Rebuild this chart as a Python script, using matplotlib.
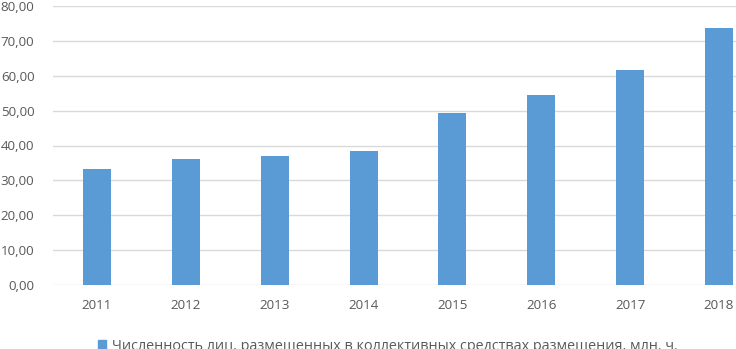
import matplotlib
matplotlib.use("Agg")
import matplotlib.pyplot as plt
from matplotlib.patches import Patch

years = ["2011", "2012", "2013", "2014", "2015", "2016", "2017", "2018"]
values = [33.3, 36.1, 37.0, 38.4, 49.3, 54.5, 61.6, 73.7]
y_ticks = [0, 10, 20, 30, 40, 50, 60, 70, 80]
series_name = "Численность лиц, размещенных в коллективных средствах размещения, млн. ч."

plt.rcParams["font.family"] = ["Open Sans", "DejaVu Sans"]

W, H = 736, 349
fig = plt.figure(figsize=(W / 100, H / 100), dpi=100)
# plot area is wider than the picture: the right side is cut off
ax = fig.add_axes([52.5 / W, 1 - 285 / H, 711 / W, 279 / H])

x = range(len(years))
ax.bar(x, values, width=0.315, color="#5B9BD5", zorder=2)

ax.set_xlim(-0.5, len(years) - 0.5)
ax.set_ylim(0, 80)
ax.set_yticks(y_ticks)
ax.set_yticklabels([f"{v:.2f}".replace(".", ",") for v in y_ticks])
ax.set_xticks(list(x))
ax.set_xticklabels(years)
ax.tick_params(length=0, colors="#595959", labelsize=9.6)
ax.tick_params(axis="y", pad=13)
ax.tick_params(axis="x", pad=10)
ax.grid(axis="y", color="#D9D9D9", linewidth=1, zorder=0)
for s in ax.spines.values():
    s.set_visible(False)

# the legend line is cut by the bottom edge, as in the source picture
fig.legend(handles=[Patch(color="#5B9BD5")], labels=[series_name],
           loc="center left", bbox_to_anchor=(92 / W, 1 - 346 / H),
           frameon=False, fontsize=10.4, handlelength=0.6, handleheight=0.6,
           handletextpad=0.35, labelcolor="#595959", borderaxespad=0)

fig.savefig("out.png", dpi=100)
